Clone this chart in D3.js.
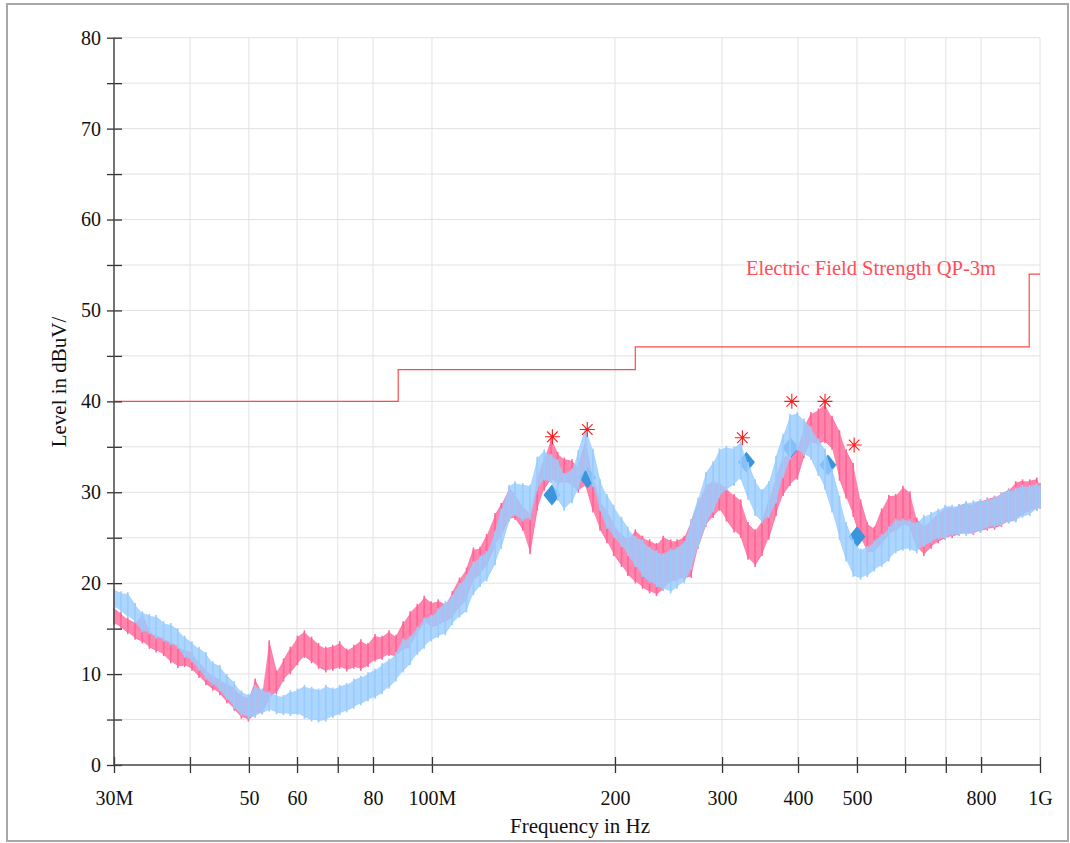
<!DOCTYPE html>
<html>
<head>
<meta charset="utf-8">
<script src="https://cdn.jsdelivr.net/npm/d3@7"></script>
<style>
  body { margin: 0; background: #fff; }
  svg { display: block; font-family: "Liberation Serif", "Times New Roman", serif; }
</style>
</head>
<body>
<div id="chart"></div>
<script>
// frequency grid of the scan (MHz)
const freqMHz = [
  30, 30.8, 31.6, 32.5, 33.4, 34.3, 35.2, 36.2, 37.2, 38.2,
  39.2, 40.3, 41.4, 42.5, 43.6, 44.8, 46, 47.3, 48.6, 49.9,
  51.2, 52.6, 54, 55.5, 57, 58.5, 60.1, 61.7, 63.4, 65.1,
  66.9, 68.7, 70.5, 72.4, 74.4, 76.4, 78.5, 80.6, 82.8, 85,
  87.3, 89.7, 92.1, 94.6, 97.1, 99.7, 102.4, 105.2, 108, 111,
  114, 117, 120, 123, 127, 130, 134, 137, 141, 145,
  149, 153, 157, 161, 165, 170, 174, 179, 184, 189,
  194, 199, 205, 210, 216, 222, 228, 234, 240, 247,
  253, 260, 267, 274, 282, 290, 297, 305, 314, 322,
  331, 340, 349, 358, 368, 378, 388, 399, 409, 420,
  432, 443, 455, 468, 480, 493, 507, 520, 534, 549,
  564, 579, 595, 611, 627, 644, 662, 680, 698, 717,
  736, 756, 777, 798, 819, 842, 864, 888, 912, 936,
  962, 988, 1000
];

// pink trace (max / min level per frequency bin, dBuV)
const pinkHi = [
  17.2, 16.6, 16.0, 15.6, 16.5, 14.6, 14.2, 13.9, 13.5, 13.0,
  12.6, 12.3, 11.2, 10.4, 9.8, 9.3, 8.9, 8.4, 7.6, 7.2,
  9.3, 7.8, 13.5, 10.2, 11.5, 12.8, 14.0, 14.6, 13.9, 13.2,
  12.8, 13.0, 13.4, 12.6, 13.0, 13.6, 13.2, 14.2, 14.0, 14.6,
  14.1, 15.6, 16.7, 17.5, 18.4, 17.8, 18.0, 17.6, 18.9, 20.4,
  21.5, 23.7, 23.8, 25.2, 27.5, 28.6, 30.4, 29.7, 28.4, 27.5,
  31.4, 33.6, 35.8, 34.2, 33.6, 33.4, 32.8, 35.6, 31.5, 29.0,
  27.9, 26.4, 25.3, 24.8, 25.7, 25.0, 24.6, 24.2, 25.0, 24.6,
  24.6, 25.0, 26.8, 28.8, 30.6, 31.2, 30.9, 30.4, 29.6, 29.0,
  26.5, 25.7, 26.8, 29.0, 31.6, 33.8, 34.2, 34.8, 37.0, 38.6,
  39.0, 39.6, 38.2, 36.6, 34.5, 33.0, 29.0, 26.5, 26.0, 28.0,
  29.5, 29.6, 30.5, 29.9, 27.0, 26.2, 26.8, 27.6, 28.2, 28.2,
  28.5, 28.7, 28.6, 29.0, 29.2, 29.4, 29.8, 30.2, 31.0, 31.2,
  31.2, 31.4, 30.8
];
const pinkLo = [
  15.6, 15.2, 14.6, 14.0, 13.6, 13.0, 12.6, 12.2, 11.4, 10.9,
  11.0, 10.6, 9.8, 9.0, 8.4, 7.9, 7.0, 6.2, 5.3, 5.0,
  5.6, 5.8, 7.4, 8.0, 9.4, 10.2, 11.2, 12.0, 11.4, 10.8,
  10.4, 10.6, 10.8, 10.5, 10.8, 10.6, 11.0, 11.6, 11.8, 12.2,
  12.0, 12.8, 13.0, 14.6, 15.8, 15.2, 15.4, 15.8, 16.3, 17.4,
  18.2, 20.4, 21.0, 22.0, 24.2, 25.3, 27.1, 27.2, 26.0, 23.4,
  28.2, 30.4, 31.5, 31.0, 31.2, 30.8, 30.2, 30.8, 28.0, 26.0,
  24.6, 23.2, 22.0, 21.0, 20.2, 19.6, 19.1, 18.8, 19.4, 20.2,
  20.4, 20.6, 20.8, 24.0, 26.4, 27.4, 28.2, 27.0, 25.8, 25.2,
  22.8, 22.0, 23.2, 25.0, 27.6, 29.8, 30.9, 31.6, 34.0, 35.6,
  35.3, 35.6, 34.9, 31.5, 29.5, 27.5, 25.0, 23.5, 23.5, 24.4,
  25.4, 25.8, 26.5, 26.2, 24.0, 23.2, 24.0, 24.6, 25.0, 25.2,
  25.4, 25.6, 25.5, 25.8, 26.0, 26.1, 26.4, 26.8, 27.0, 27.6,
  28.0, 28.2, 28.4
];

// blue trace
const blueHi = [
  19.2, 18.9, 18.8, 17.6, 16.7, 16.4, 16.3, 15.6, 15.4, 14.8,
  14.0, 13.4, 12.8, 12.2, 11.2, 10.8, 9.8, 9.0, 8.0, 7.6,
  8.6, 8.2, 7.9, 7.6, 7.5, 8.0, 8.2, 8.6, 8.4, 8.2,
  8.6, 8.3, 8.6, 8.8, 9.3, 9.6, 10.0, 10.4, 11.0, 11.5,
  12.2, 13.7, 14.0, 15.0, 16.0, 16.3, 17.0, 17.8, 18.5, 19.8,
  20.7, 22.2, 22.8, 23.3, 25.5, 28.0, 30.6, 31.0, 30.8, 30.6,
  33.7, 34.5, 34.0, 33.4, 31.9, 32.4, 34.4, 37.0, 34.6, 31.2,
  29.6, 28.4, 27.1, 26.0, 25.0, 24.6, 23.8, 23.4, 23.1, 23.6,
  23.8, 24.4, 26.8, 29.2, 32.0, 33.2, 34.6, 34.9, 34.8, 35.4,
  33.1, 31.2, 30.1, 31.0, 33.8, 36.2, 38.4, 38.6, 37.9, 37.0,
  35.7, 34.6, 32.4, 29.4, 26.5, 24.6, 23.6, 23.9, 24.5, 25.2,
  26.0, 26.9, 26.9, 26.8, 26.5, 27.3, 27.6, 28.0, 28.4, 28.4,
  28.5, 28.8, 28.9, 29.0, 29.1, 29.3, 29.8, 30.1, 30.3, 30.6,
  30.6, 30.8, 30.6
];
const blueLo = [
  17.4, 17.0, 16.4, 15.8, 14.8, 14.6, 14.1, 13.8, 13.4, 13.0,
  12.0, 11.5, 10.6, 9.6, 9.0, 8.3, 7.4, 6.4, 5.6, 5.3,
  5.4, 5.8, 6.1, 5.8, 5.7, 5.6, 5.7, 5.3, 5.0, 4.9,
  5.0, 5.4, 5.7, 6.0, 6.4, 6.8, 7.2, 7.5, 8.0, 8.6,
  9.4, 10.4, 11.2, 12.3, 13.0, 13.8, 14.2, 14.5, 15.6, 16.4,
  17.0, 18.9, 19.8, 20.4, 22.2, 24.0, 27.0, 27.6, 27.0, 27.2,
  30.4, 31.5, 31.2, 29.3, 28.2, 29.0, 30.6, 32.6, 30.8, 28.2,
  26.2, 25.2, 24.2, 23.2, 22.0, 20.9, 20.2, 19.8, 19.4, 19.1,
  19.6, 20.2, 21.7, 24.1, 26.5, 28.0, 29.6, 30.4, 30.9, 31.6,
  29.4, 27.6, 26.8, 27.4, 29.0, 31.8, 33.8, 34.8, 34.2, 33.8,
  32.0, 30.5, 28.0, 25.0, 22.6, 20.9, 20.6, 20.9, 21.5, 22.0,
  22.6, 23.5, 23.8, 23.8, 23.5, 24.2, 24.6, 25.0, 25.0, 25.4,
  25.4, 25.4, 25.6, 25.8, 26.2, 26.3, 26.5, 26.8, 26.9, 27.4,
  27.6, 28.2, 28.4
];

// limit line: Electric Field Strength QP-3m
const limitStart = [30, 88, 216, 960];
const limitEnd = [88, 216, 960, 1000];
const limitLevel = [40, 43.5, 46, 54];

// peak markers (asterisks) and QP results (diamonds)
const peakFreq = [157.8, 180.1, 324, 390.7, 443, 494.7];
const peakLevel = [36.1, 36.9, 36.0, 40.0, 40.0, 35.2];
const qpFreq = [157.5, 180.3, 329, 389, 448, 500];
const qpLevel = [29.7, 31.6, 33.3, 34.9, 33.0, 25.1];

// axis ticks
const xTickValues = [30, 40, 50, 60, 70, 80, 100, 200, 300, 400, 500, 600, 700, 800, 1000];
const xTickLabels = ["30M", "", "50", "60", "", "80", "100M", "200", "300", "400", "500", "", "", "800", "1G"];
const yTickValues = [0, 5, 10, 15, 20, 25, 30, 35, 40, 45, 50, 55, 60, 65, 70, 75, 80];

const W = 1070, H = 843;
const plotLeft = 114, plotRight = 1040, plotTop = 37.7, plotBottom = 765;

const svg = d3.select("#chart").append("svg")
  .attr("width", W).attr("height", H);

// outer frame
svg.append("rect")
  .attr("x", 7).attr("y", 4)
  .attr("width", 1061).attr("height", 837)
  .attr("fill", "none").attr("stroke", "#a8a8a8").attr("stroke-width", 2);

const x = d3.scaleLog().domain([30, 1000]).range([plotLeft, plotRight]);
const y = d3.scaleLinear().domain([0, 80]).range([plotBottom, plotTop]);

// grid
const grid = svg.append("g").attr("stroke", "#e2e2e2").attr("stroke-width", 1);
grid.selectAll(".gx").data(xTickValues.slice(1)).join("line")
  .attr("x1", d => x(d)).attr("x2", d => x(d))
  .attr("y1", plotTop).attr("y2", plotBottom);
grid.selectAll(".gy").data(yTickValues.slice(1)).join("line")
  .attr("x1", plotLeft).attr("x2", plotRight)
  .attr("y1", d => y(d)).attr("y2", d => y(d));

// limit line
const limitPts = [];
limitLevel.forEach((v, i) => {
  limitPts.push([limitStart[i], v]);
  limitPts.push([limitEnd[i], v]);
});
svg.append("path")
  .datum(limitPts)
  .attr("fill", "none")
  .attr("stroke", "#ff4a4a")
  .attr("stroke-width", 1.2)
  .attr("d", d3.line().x(d => x(d[0])).y(d => y(d[1])));

svg.append("text")
  .attr("x", 746).attr("y", 275)
  .attr("fill", "#ff4d5a")
  .attr("font-size", 20.5)
  .text("Electric Field Strength QP-3m");

// traces: band of min/max per bin, vertical strokes per bin
function drawTrace(hi, lo, color, op) {
  const rows = freqMHz.map((f, i) => ({ f: f, hi: hi[i], lo: lo[i] }));
  const g = svg.append("g");
  g.append("path")
    .datum(rows)
    .attr("fill", color)
    .attr("fill-opacity", op)
    .attr("d", d3.area().x(d => x(d.f)).y0(d => y(d.lo)).y1(d => y(d.hi)));
  g.selectAll("line").data(rows).join("line")
    .attr("x1", d => x(d.f)).attr("x2", d => x(d.f))
    .attr("y1", d => y(d.lo) + 2).attr("y2", d => y(d.hi) - 2)
    .attr("stroke", color)
    .attr("stroke-width", 1.6);
  // thin zigzag joining neighbouring bins
  const zig = [];
  rows.forEach((d, i) => {
    if (i % 2 === 0) { zig.push([d.f, d.lo]); zig.push([d.f, d.hi]); }
    else { zig.push([d.f, d.hi]); zig.push([d.f, d.lo]); }
  });
  g.append("path")
    .datum(zig)
    .attr("fill", "none")
    .attr("stroke", color)
    .attr("stroke-width", 0.8)
    .attr("d", d3.line().x(d => x(d[0])).y(d => y(d[1])));
}
drawTrace(pinkHi, pinkLo, "#ff6699", 0.8);

// QP diamonds (between the two traces)
svg.append("g").selectAll("path")
  .data(qpFreq.map((f, i) => [f, qpLevel[i]]))
  .join("path")
  .attr("fill", "#3b95dc")
  .attr("d", d => {
    const cx = x(d[0]), cy = y(d[1]);
    return `M${cx},${cy - 10.5}L${cx + 8.5},${cy}L${cx},${cy + 10.5}L${cx - 8.5},${cy}Z`;
  });

drawTrace(blueHi, blueLo, "#99ccff", 0.8);

// peak asterisks
svg.append("g").selectAll("path")
  .data(peakFreq.map((f, i) => [f, peakLevel[i]]))
  .join("path")
  .attr("fill", "none")
  .attr("stroke", "#ff1a1a")
  .attr("stroke-width", 1.1)
  .attr("d", d => {
    const cx = x(d[0]), cy = y(d[1]), r = 7.5, q = 5.3;
    return `M${cx - r},${cy}L${cx + r},${cy}M${cx},${cy - r}L${cx},${cy + r}` +
      `M${cx - q},${cy - q}L${cx + q},${cy + q}M${cx - q},${cy + q}L${cx + q},${cy - q}`;
  });

// y axis: ticks cross the axis line
const yAxis = d3.axisLeft(y)
  .tickValues(yTickValues)
  .tickSize(15)
  .tickPadding(6)
  .tickFormat(d => (d % 10 === 0 ? d : ""));
const gy = svg.append("g")
  .attr("transform", `translate(${plotLeft + 8},0)`)
  .call(yAxis);
gy.select(".domain").remove();
gy.selectAll(".tick line").attr("stroke", "#333").attr("stroke-width", 1.3);
gy.selectAll(".tick text")
  .attr("font-family", "Liberation Serif, Times New Roman, serif")
  .attr("font-size", 20).attr("fill", "#111");

// x axis
const xAxis = d3.axisBottom(x)
  .tickValues(xTickValues)
  .tickSize(16)
  .tickPadding(18)
  .tickFormat((d, i) => xTickLabels[i]);
const gx = svg.append("g")
  .attr("transform", `translate(0,${plotBottom - 8})`)
  .call(xAxis);
gx.select(".domain").remove();
gx.selectAll(".tick line").attr("stroke", "#333").attr("stroke-width", 1.3);
gx.selectAll(".tick text")
  .attr("font-family", "Liberation Serif, Times New Roman, serif")
  .attr("font-size", 20).attr("fill", "#111");

// axis lines
svg.append("line")
  .attr("x1", plotLeft).attr("x2", plotLeft).attr("y1", plotTop).attr("y2", plotBottom)
  .attr("stroke", "#444").attr("stroke-width", 1.5);
svg.append("line")
  .attr("x1", plotLeft).attr("x2", plotRight).attr("y1", plotBottom).attr("y2", plotBottom)
  .attr("stroke", "#444").attr("stroke-width", 1.5);

// axis titles
svg.append("text")
  .attr("x", 580).attr("y", 833)
  .attr("text-anchor", "middle")
  .attr("font-size", 21).attr("fill", "#111")
  .text("Frequency in Hz");
svg.append("text")
  .attr("transform", "translate(66,382) rotate(-90)")
  .attr("text-anchor", "middle")
  .attr("font-size", 21).attr("fill", "#111")
  .text("Level in dBuV/");
</script>
</body>
</html>
